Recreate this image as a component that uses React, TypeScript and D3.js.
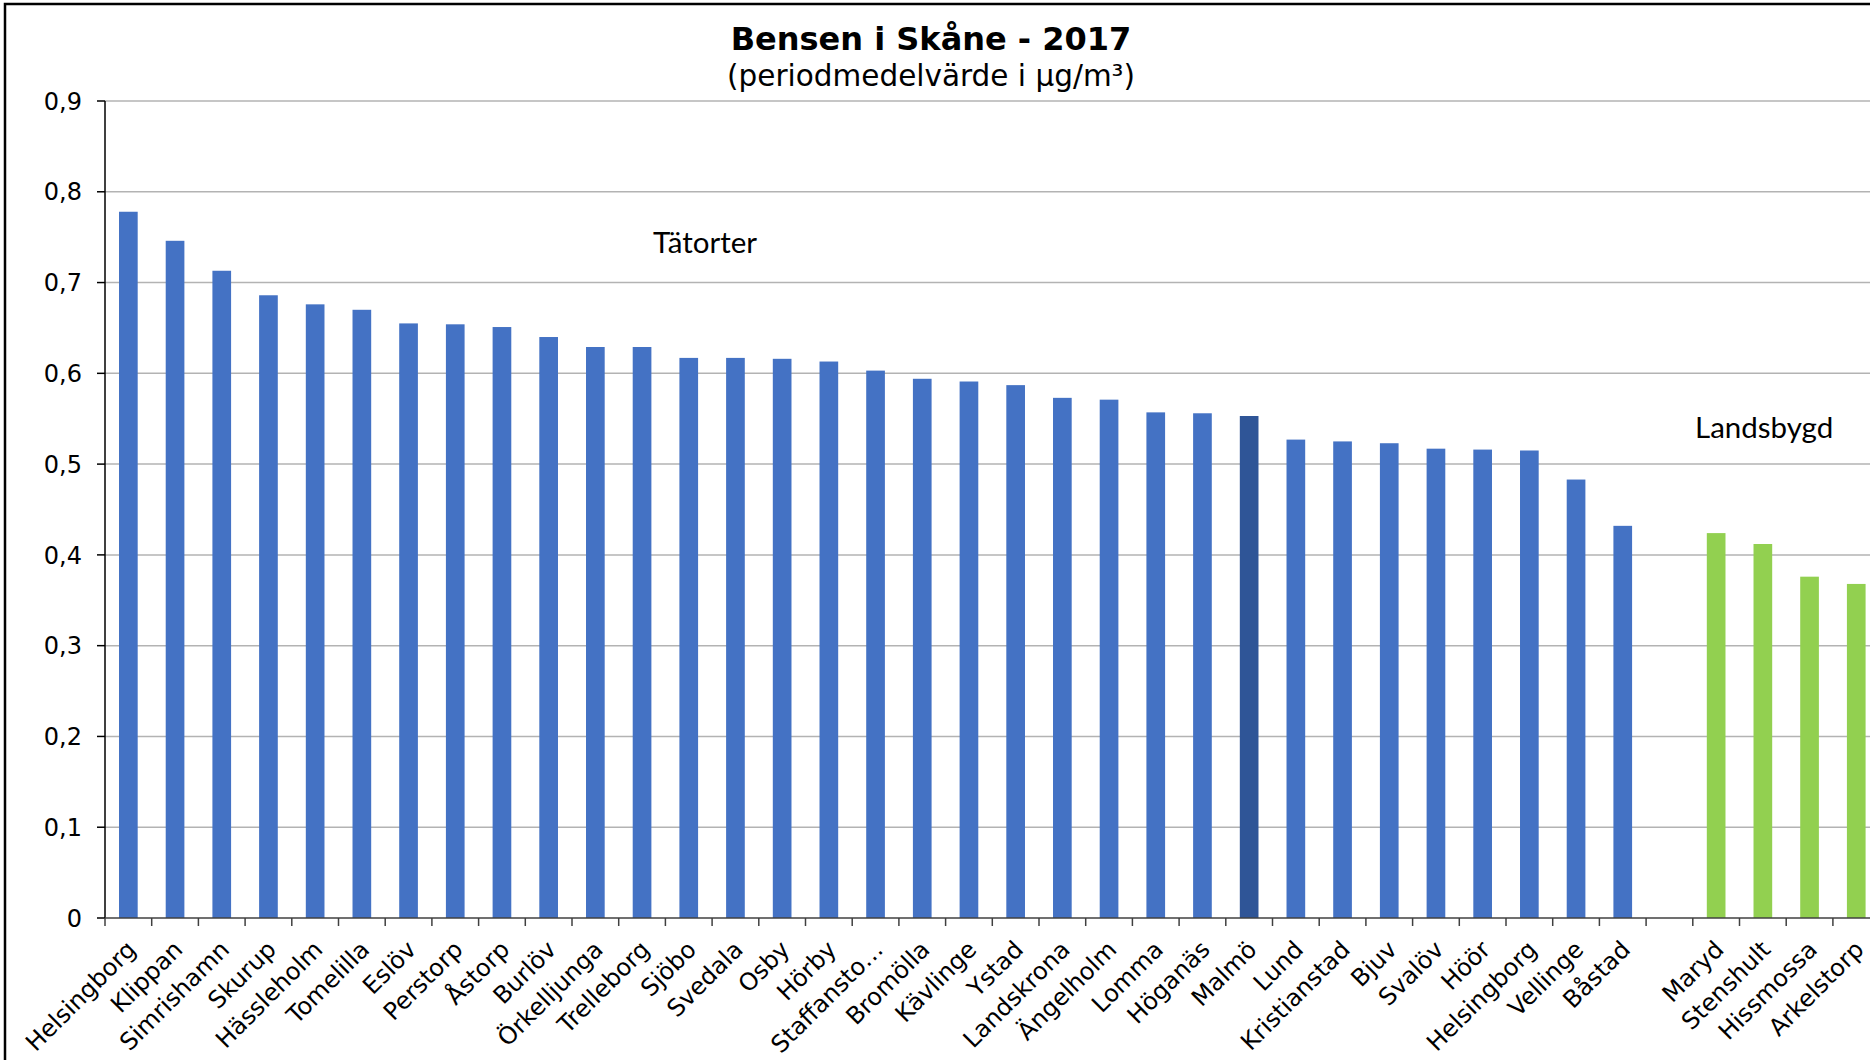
import React, { useRef, useEffect } from 'react';
import * as d3 from 'd3';

// Tätorter (urban sites), sorted as in the source chart
const towns = [
  'Helsingborg', 'Klippan', 'Simrishamn', 'Skurup', 'Hässleholm', 'Tomelilla', 'Eslöv',
  'Perstorp', 'Åstorp', 'Burlöv', 'Örkelljunga', 'Trelleborg', 'Sjöbo', 'Svedala', 'Osby',
  'Hörby', 'Staffansto…', 'Bromölla', 'Kävlinge', 'Ystad', 'Landskrona', 'Ängelholm',
  'Lomma', 'Höganäs', 'Malmö', 'Lund', 'Kristianstad', 'Bjuv', 'Svalöv', 'Höör',
  'Helsingborg', 'Vellinge', 'Båstad'
];
const townValues = [
  0.778, 0.746, 0.713, 0.686, 0.676, 0.670, 0.655,
  0.654, 0.651, 0.640, 0.629, 0.629, 0.617, 0.617, 0.616,
  0.613, 0.603, 0.594, 0.591, 0.587, 0.573, 0.571,
  0.557, 0.556, 0.553, 0.527, 0.525, 0.523, 0.517, 0.516,
  0.515, 0.483, 0.432
];
const highlightTown = 'Malmö';

// Landsbygd (rural sites)
const ruralSites = ['Maryd', 'Stenshult', 'Hissmossa', 'Arkelstorp'];
const ruralValues = [0.424, 0.412, 0.376, 0.368];

const yTicks = [0, 0.1, 0.2, 0.3, 0.4, 0.5, 0.6, 0.7, 0.8, 0.9];

const title = 'Bensen i Skåne - 2017';
const subtitle = '(periodmedelvärde i µg/m³)';

const W = 1870;
const H = 1060;
const FONT = '"DejaVu Sans", Verdana, sans-serif';
const NOTE_FONT = 'Lato, "Open Sans", sans-serif';

const App = () => {
  const svgRef = useRef(null);

  useEffect(() => {
    const svg = d3.select(svgRef.current);
    svg.selectAll('*').remove();

    const rows = [
      ...towns.map((name, i) => ({ name, value: townValues[i], group: name === highlightTown ? 'main' : 'town' })),
      { name: '', value: null, group: 'gap' },
      ...ruralSites.map((name, i) => ({ name, value: ruralValues[i], group: 'rural' }))
    ].map((d, i) => ({ ...d, key: String(i) }));

    const left = 105;
    const step = 46.7;
    const x = d3.scaleBand()
      .domain(rows.map(d => d.key))
      .range([left, left + step * rows.length])
      .paddingInner(0.6)
      .paddingOuter(0.3);

    const y = d3.scaleLinear().domain([0, 0.9]).range([918, 101]);

    // outer frame
    svg.append('rect')
      .attr('x', 5).attr('y', 4)
      .attr('width', W + 20).attr('height', H + 20)
      .attr('fill', 'white')
      .attr('stroke', '#000').attr('stroke-width', 2.5);

    // gridlines
    svg.append('g')
      .selectAll('line')
      .data(yTicks.filter(t => t > 0))
      .enter().append('line')
      .attr('x1', left).attr('x2', W)
      .attr('y1', d => y(d)).attr('y2', d => y(d))
      .attr('stroke', '#b3b3b3').attr('stroke-width', 1.5);

    // bars
    const colors = { town: '#4472C4', main: '#2F5597', rural: '#92D050' };
    svg.append('g')
      .selectAll('rect')
      .data(rows.filter(d => d.value != null))
      .enter().append('rect')
      .attr('x', d => x(d.key))
      .attr('width', x.bandwidth())
      .attr('y', d => y(d.value))
      .attr('height', d => y(0) - y(d.value))
      .attr('fill', d => colors[d.group]);

    // y axis
    const yAxis = svg.append('g');
    yAxis.append('line')
      .attr('x1', left).attr('x2', left)
      .attr('y1', y(0.9)).attr('y2', y(0))
      .attr('stroke', '#000').attr('stroke-width', 1.5);
    yAxis.selectAll('.tick')
      .data(yTicks)
      .enter().append('line')
      .attr('x1', left - 8).attr('x2', left)
      .attr('y1', d => y(d)).attr('y2', d => y(d))
      .attr('stroke', '#000').attr('stroke-width', 1.5);
    yAxis.selectAll('text')
      .data(yTicks)
      .enter().append('text')
      .attr('x', 82)
      .attr('y', d => y(d))
      .attr('dy', '0.36em')
      .attr('text-anchor', 'end')
      .style('font-family', FONT)
      .style('font-size', '24px')
      .text(d => d3.format('.1f')(d).replace('.', ',').replace(/^0,0$/, '0'));

    // x axis
    const xAxis = svg.append('g');
    xAxis.append('line')
      .attr('x1', left).attr('x2', W)
      .attr('y1', y(0)).attr('y2', y(0))
      .attr('stroke', '#404040').attr('stroke-width', 1.5);
    xAxis.selectAll('.tick')
      .data(d3.range(rows.length + 1))
      .enter().append('line')
      .attr('x1', i => left + i * x.step()).attr('x2', i => left + i * x.step())
      .attr('y1', y(0)).attr('y2', y(0) + 8)
      .attr('stroke', '#404040').attr('stroke-width', 1.5);
    xAxis.selectAll('text')
      .data(rows.filter(d => d.name))
      .enter().append('text')
      .attr('transform', d => `translate(${x(d.key) + x.bandwidth() / 2 + 9},${y(0) + 33}) rotate(-45)`)
      .attr('text-anchor', 'end')
      .style('font-family', FONT)
      .style('font-size', '24px')
      .text(d => d.name);

    // titles
    svg.append('text')
      .attr('x', 931).attr('y', 50)
      .attr('text-anchor', 'middle')
      .style('font-family', FONT)
      .style('font-weight', 'bold')
      .style('font-size', '32px')
      .text(title);
    svg.append('text')
      .attr('x', 931).attr('y', 86)
      .attr('text-anchor', 'middle')
      .style('font-family', FONT)
      .style('font-size', '29.5px')
      .text(subtitle);

    // group annotations
    svg.append('text')
      .attr('x', 705).attr('y', 253)
      .attr('text-anchor', 'middle')
      .style('font-family', NOTE_FONT)
      .style('font-size', '29.5px')
      .text('Tätorter');
    svg.append('text')
      .attr('x', 1695).attr('y', 438)
      .style('font-family', NOTE_FONT)
      .style('font-size', '29.5px')
      .text('Landsbygd');
  }, []);

  return (
    <div style={{ position: 'fixed', left: 0, top: 0 }}>
      <svg ref={svgRef} width={W} height={H} style={{ display: 'block' }}></svg>
    </div>
  );
};

export default App;
